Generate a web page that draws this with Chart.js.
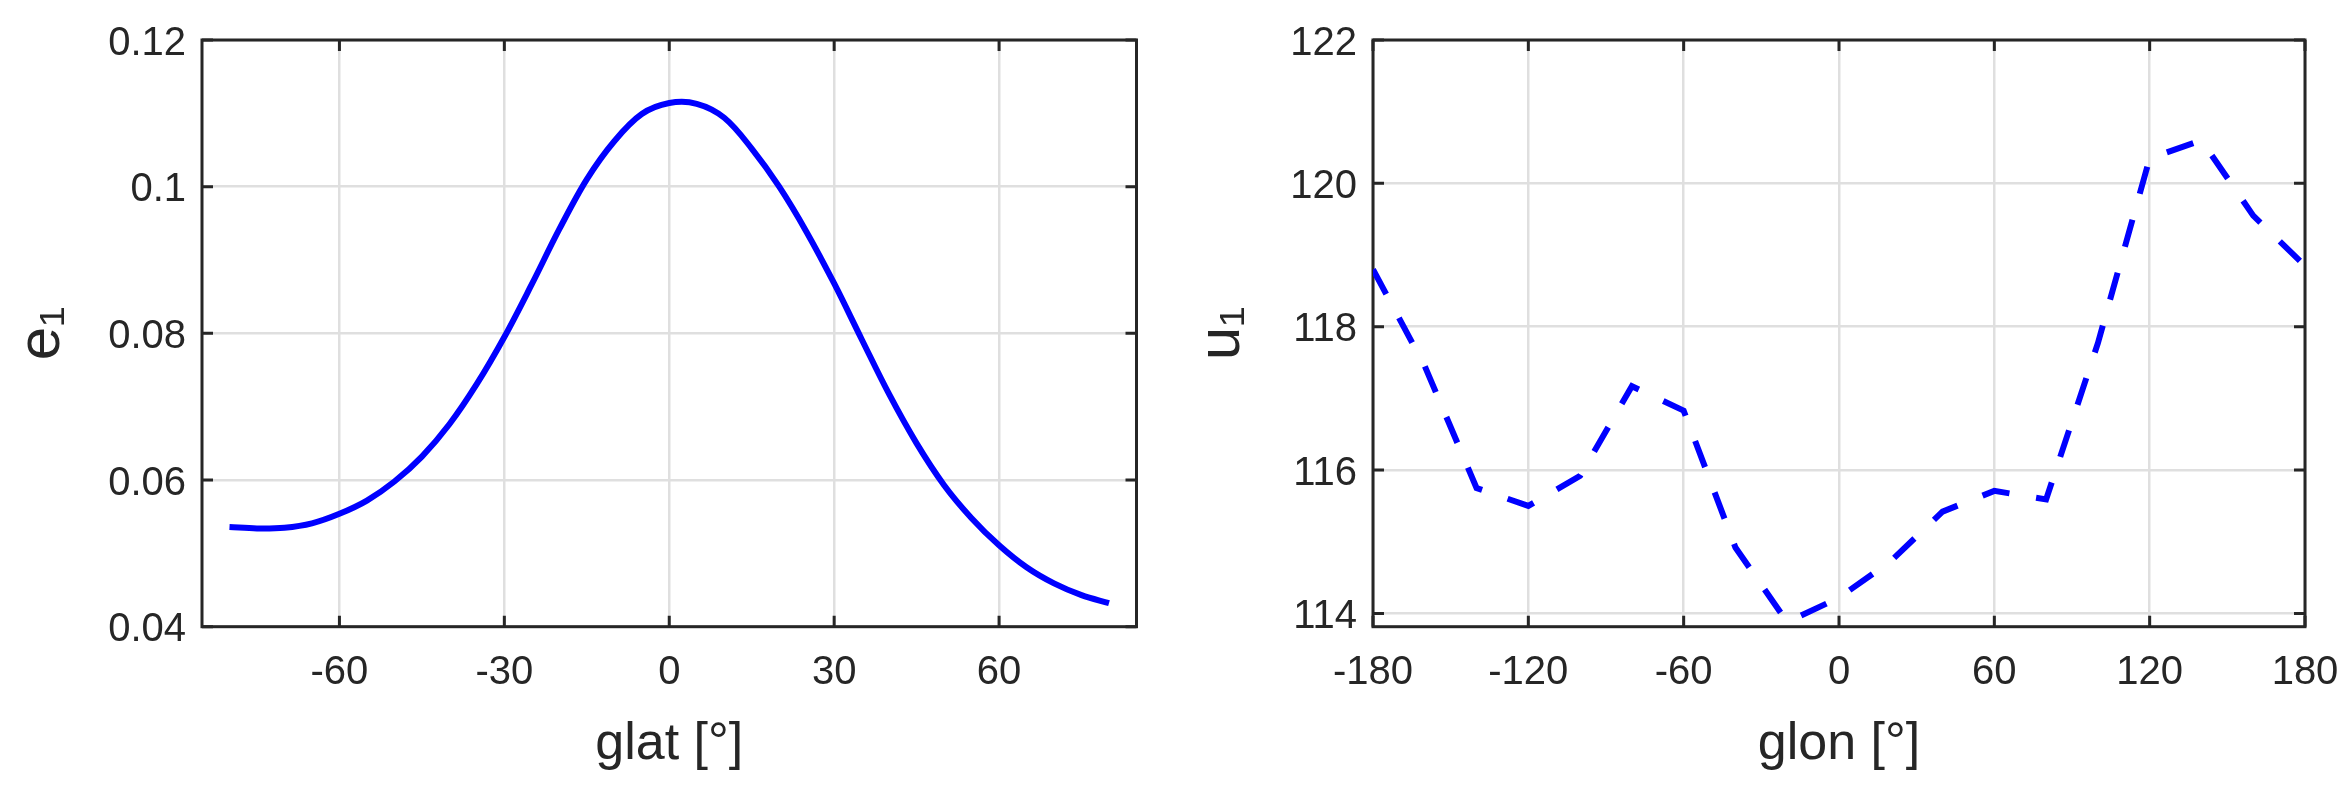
<!DOCTYPE html>
<html><head><meta charset="utf-8">
<script src="https://cdn.jsdelivr.net/npm/chart.js@4.4.1/dist/chart.umd.min.js"></script>
<style>
html,body{margin:0;padding:0;background:#fff;width:2340px;height:789px;overflow:hidden}
.panel{position:absolute;top:0;width:1170px;height:789px}
#p1{left:0}#p2{left:1170px}
</style></head><body>
<div class="panel" id="p1"><canvas id="c1"></canvas></div>
<div class="panel" id="p2"><canvas id="c2"></canvas></div>
<script>
// ---- data ----
const glat = [-80,-75,-70,-65,-60,-55,-50,-45,-40,-35,-30,-25,-20,-15,-10,-5,0,5,10,15,20,25,30,35,40,45,50,55,60,65,70,75,80];
const e1 = [0.0536,0.0534,0.0535,0.0541,0.0554,0.0572,0.0598,0.0632,0.0676,0.0731,0.0795,0.0867,0.0942,0.1010,0.1062,0.1099,0.1114,0.1113,0.1094,0.1052,0.1000,0.0938,0.0868,0.0792,0.0717,0.0650,0.0593,0.0548,0.0511,0.0481,0.0459,0.0443,0.0432];
const glon = [-180,-160,-140,-120,-100,-80,-60,-40,-20,0,20,40,60,80,100,120,140,160,180];
const u1 = [118.8,117.45,115.75,115.5,115.92,117.17,116.83,114.92,113.88,114.22,114.73,115.42,115.71,115.59,117.77,120.35,120.6,119.55,118.85];
const glatTicks = [-60,-30,0,30,60];
const glatTickLabels = ['-60','-30','0','30','60'];
const e1Ticks = [0.04,0.06,0.08,0.1,0.12];
const e1TickLabels = ['0.04','0.06','0.08','0.1','0.12'];
const glonTicks = [-180,-120,-60,0,60,120,180];
const glonTickLabels = ['-180','-120','-60','0','60','120','180'];
const u1Ticks = [114,116,118,120,122];
const u1TickLabels = ['114','116','118','120','122'];

const AX = '#262626', GRID = '#dfdfdf', BLUE = '#0000ff';
const FONT = "'Liberation Sans', Arial, Helvetica, sans-serif";

const boxPlugin = {
  id: 'matlabBox',
  beforeDatasetsDraw(chart) {
    const {ctx, chartArea: a, scales: {x, y}} = chart;
    const L = 11;
    ctx.save();
    ctx.strokeStyle = AX; ctx.lineWidth = 3; ctx.lineCap = 'butt';
    ctx.beginPath();
    x.ticks.forEach(t => {
      const px = x.getPixelForValue(t.value);
      ctx.moveTo(px, a.bottom); ctx.lineTo(px, a.bottom - L);
      ctx.moveTo(px, a.top); ctx.lineTo(px, a.top + L);
    });
    y.ticks.forEach(t => {
      const py = y.getPixelForValue(t.value);
      ctx.moveTo(a.left, py); ctx.lineTo(a.left + L, py);
      ctx.moveTo(a.right, py); ctx.lineTo(a.right - L, py);
    });
    ctx.stroke();
    ctx.strokeRect(a.left, a.top, a.right - a.left, a.bottom - a.top);
    ctx.restore();
  }
};

function make(id, cfg) {
  const pts = cfg.xs.map((v, i) => ({x: v, y: cfg.ys[i]}));
  return new Chart(document.getElementById(id), {
    type: 'line',
    data: {datasets: [{data: pts, borderColor: BLUE, borderWidth: 6, borderDash: cfg.dash,
      borderCapStyle: 'butt', pointRadius: 0, tension: cfg.tension, fill: false}]},
    options: {
      responsive: true, maintainAspectRatio: false, animation: false, devicePixelRatio: 1,
      layout: {padding: cfg.padding},
      plugins: {legend: {display: false}, tooltip: {enabled: false}},
      scales: {
        x: {
          type: 'linear', min: cfg.xmin, max: cfg.xmax,
          afterBuildTicks: s => { s.ticks = cfg.xticks.map(v => ({value: v})); },
          afterFit: s => { s.height = 149; s.paddingLeft = 0; s.paddingRight = 0; },
          grid: {color: GRID, lineWidth: 2.5, drawTicks: false},
          border: {display: false},
          ticks: {color: AX, font: {family: FONT, size: 40}, padding: 22, maxRotation: 0, autoSkip: false,
            callback: (v, i) => cfg.xlabels[i]},
          title: {display: true, text: cfg.xtitle, color: AX, font: {family: FONT, size: 52, lineHeight: 1.2},
            padding: {top: 0, bottom: 0}}
        },
        y: {
          type: 'linear', min: cfg.ymin, max: cfg.ymax,
          afterBuildTicks: s => { s.ticks = cfg.yticks.map(v => ({value: v})); },
          afterFit: s => { s.width = cfg.yw; },
          grid: {color: GRID, lineWidth: 2.5, drawTicks: false},
          border: {display: false},
          ticks: {color: AX, font: {family: FONT, size: 40}, padding: 16, labelOffset: 3.5, autoSkip: false,
            callback: (v, i) => cfg.ylabels[i]},
          title: {display: true, text: cfg.ytitle, color: AX, font: {family: FONT, size: 60, lineHeight: 1.2},
            padding: {top: cfg.ytp, bottom: 0}}
        }
      }
    },
    plugins: [boxPlugin]
  });
}

make('c1', {xs: glat, ys: e1, dash: [], tension: 0.35, xmin: -85, xmax: 85, ymin: 0.04, ymax: 0.12,
  xticks: glatTicks, xlabels: glatTickLabels, yticks: e1Ticks, ylabels: e1TickLabels,
  xtitle: 'glat [°]', ytitle: 'e₁', yw: 202, ytp: 6,
  padding: {left: 0, top: 33, right: 33.5, bottom: 13.3}});
make('c2', {xs: glon, ys: u1, dash: [28, 27], tension: 0, xmin: -180, xmax: 180, ymin: 113.815, ymax: 122,
  xticks: glonTicks, xlabels: glonTickLabels, yticks: u1Ticks, ylabels: u1TickLabels,
  xtitle: 'glon [°]', ytitle: 'u₁', yw: 203, ytp: 16,
  padding: {left: 0, top: 33, right: 35, bottom: 13.3}});
</script>
</body></html>
